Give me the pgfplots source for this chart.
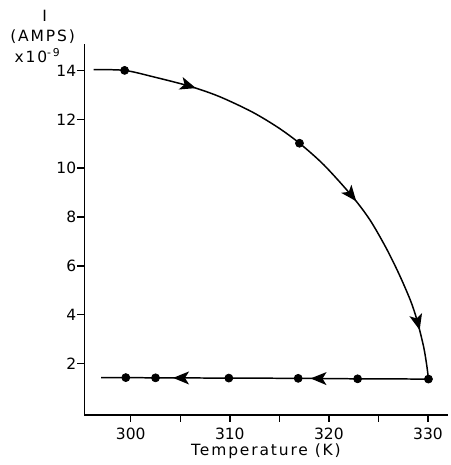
\documentclass[border=0pt]{standalone}
\usepackage{pgfplots}
\pgfplotsset{compat=1.18}
\usepackage{fontspec}
\setmainfont{DejaVu Sans}
\newfontfamily\lab[LetterSpace=12]{DejaVu Sans}
\usetikzlibrary{arrows.meta,decorations.markings}

\tikzset{
  >={Stealth[length=8pt,width=6.5pt,inset=2pt]},
}

\begin{document}
\begin{tikzpicture}
\begin{axis}[
  scale only axis,
  width=183pt, height=186.5pt,
  xmin=295.3, xmax=332,
  ymin=-0.1, ymax=15.06,
  axis x line*=bottom, axis y line*=left,
  axis line style={-, line width=0.7pt},
  xtick={300,310,320,330},
  minor xtick={305,315,325},
  ytick={2,4,6,8,10,12,14},
  tick align=outside,
  major tick length=3.5pt, minor tick length=3.5pt,
  tick style={line width=0.7pt, black},
  ticklabel style={font=\fontsize{7.8}{9}\selectfont},
  xticklabel style={yshift=0.5pt},
  yticklabel style={xshift=3pt},
  /pgf/number format/assume math mode=true,
  /pgf/number format/1000 sep={},
  xlabel={Temperature (K)},
  xlabel style={font=\lab\fontsize{7.8}{9}\selectfont, yshift=5pt},
  clip=false,
]
% heating curve
\addplot[black, line width=0.75pt, smooth,
  postaction={decorate},
  decoration={markings,
    mark=at position 0.21 with {\arrow{>}},
    mark=at position 0.61 with {\arrow{>}},
    mark=at position 0.90 with {\arrow{>}}}]
coordinates {
  (296.24,14.03) (299.38,14.00) (302.35,13.73) (305.97,13.35) (308.94,12.93)
  (312.25,12.30) (314.88,11.66) (317.03,11.02) (319.50,10.13) (322.31,8.87)
  (324.13,7.89) (325.77,6.74) (327.10,5.65) (328.25,4.57) (328.91,3.76)
  (329.57,2.68) (329.90,1.87) (330.05,1.37)
};
% cooling line
\addplot[black, line width=0.75pt,
  postaction={decorate},
  decoration={markings,
    mark=at position 0.36 with {\arrow{>}},
    mark=at position 0.78 with {\arrow{>}}}]
coordinates {
  (330.05,1.37) (322.9,1.38) (316.9,1.40) (309.9,1.41) (302.5,1.42) (299.5,1.43) (297.0,1.43)
};
% measured points
\addplot[only marks, mark=*, mark size=2pt, black]
coordinates {
  (299.38,14.0) (317.03,11.02) (330.05,1.37)
  (322.9,1.38) (316.9,1.40) (309.9,1.41) (302.5,1.42) (299.5,1.43)
};
\node[font=\lab\fontsize{7.8}{9}\selectfont] at (axis cs:291.3,16.25) {I};
\node[font=\lab\fontsize{7.8}{9}\selectfont] at (axis cs:291.1,15.4) {(AMPS)};
\node[font=\lab\fontsize{7.8}{9}\selectfont] at (axis cs:290.6,14.6) {x10\textsuperscript{-\,9}};
\path (axis cs:286.8,16.88) (axis cs:332.3,0);
\end{axis}
\end{tikzpicture}
\end{document}
